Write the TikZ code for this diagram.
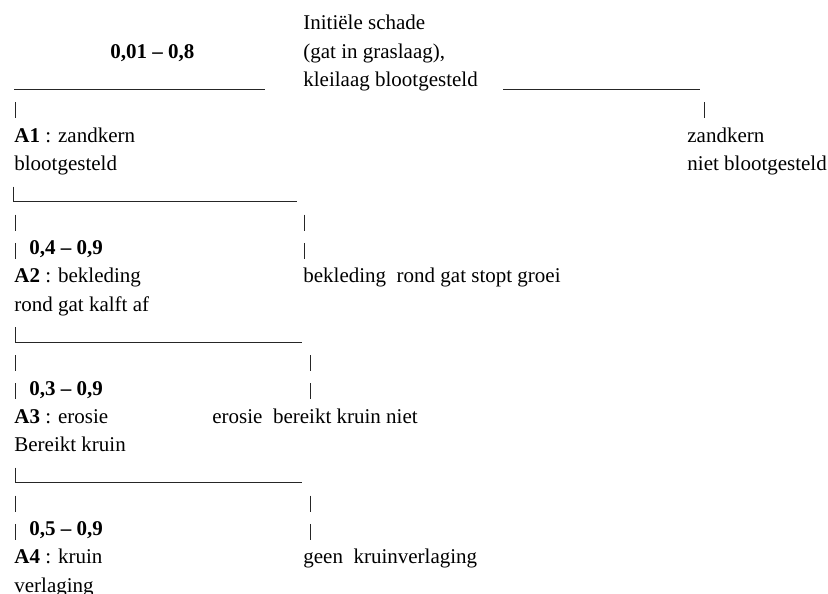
\documentclass[tikz,border=0pt]{standalone}
\usepackage{fontspec}
\setmainfont{Liberation Serif}
\usetikzlibrary{positioning}

% baseline della riga #1 (righe da 28.1 unita')
\newcommand{\bl}[1]{30+28.1*(#1)}

\begin{document}
\begin{tikzpicture}[x=0.5pt, y=-0.5pt,
    txt/.style={anchor=base west, inner sep=0pt, font=\fontsize{10.5}{12}\selectfont},
    rule/.style={line width=0.5pt, black!85}]
    \useasboundingbox (0,0) rectangle (828,593);

    % Danno iniziale
    \node[txt] (schade1) at (303,{\bl{0}}) {Initiële schade};
    \node[txt] (schade2) at (303,{\bl{1}}) {(gat in graslaag),};
    \node[txt] (schade3) at (303,{\bl{2}}) {kleilaag blootgesteld};
    \node[txt] (w1) at (110,{\bl{1}}) {\textbf{0,01 – 0,8}};

    % Rami principali
    \draw[rule] (14,{\bl{2}+3}) -- (265,{\bl{2}+3});
    \draw[rule] (503,{\bl{2}+3}) -- (700,{\bl{2}+3});
    \draw[rule] (15,{\bl{3}-12}) -- (15,{\bl{3}+4});
    \draw[rule] (704,{\bl{3}-12}) -- (704,{\bl{3}+4});

    \node[txt] (a1) at (14,{\bl{4}}) {\textbf{A1} : zandkern};
    \node[txt] (b1) at (14,{\bl{5}}) {blootgesteld};
    \node[txt] (r1a) at (687,{\bl{4}}) {zandkern};
    \node[txt] (r1b) at (687,{\bl{5}}) {niet blootgesteld};

    % Blocchi A2 - A4
    \foreach \k/\r/\p/\e/\q/\val/\aa/\ab/\rx/\rt in {
        2/6/13/297/304/{0,4 – 0,9}/bekleding/{rond gat kalft af}/303/{bekleding~ rond gat stopt groei},
        3/11/15/302/310/{0,3 – 0,9}/erosie/{Bereikt kruin}/212/{erosie~ bereikt kruin niet},
        4/16/15/302/310/{0,5 – 0,9}/kruin/verlaging/303/{geen~ kruinverlaging}} {
        \draw[rule] (\p,{\bl{\r}-12}) -- (\p,{\bl{\r}+3}) -- (\e,{\bl{\r}+3});
        \foreach \i in {1,2} {
            \draw[rule] (15,{\bl{\r+\i}-12}) -- (15,{\bl{\r+\i}+4});
            \draw[rule] (\q,{\bl{\r+\i}-12}) -- (\q,{\bl{\r+\i}+4});
        }
        \node[txt] (w\k) at (29,{\bl{\r+2}}) {\textbf{\val}};
        \node[txt] (a\k) at (14,{\bl{\r+3}}) {\textbf{A\k} : \aa};
        \node[txt] (b\k) at (14,{\bl{\r+4}}) {\ab};
        \node[txt] (r\k) at (\rx,{\bl{\r+3}}) {\rt};
    }
\end{tikzpicture}
\end{document}
